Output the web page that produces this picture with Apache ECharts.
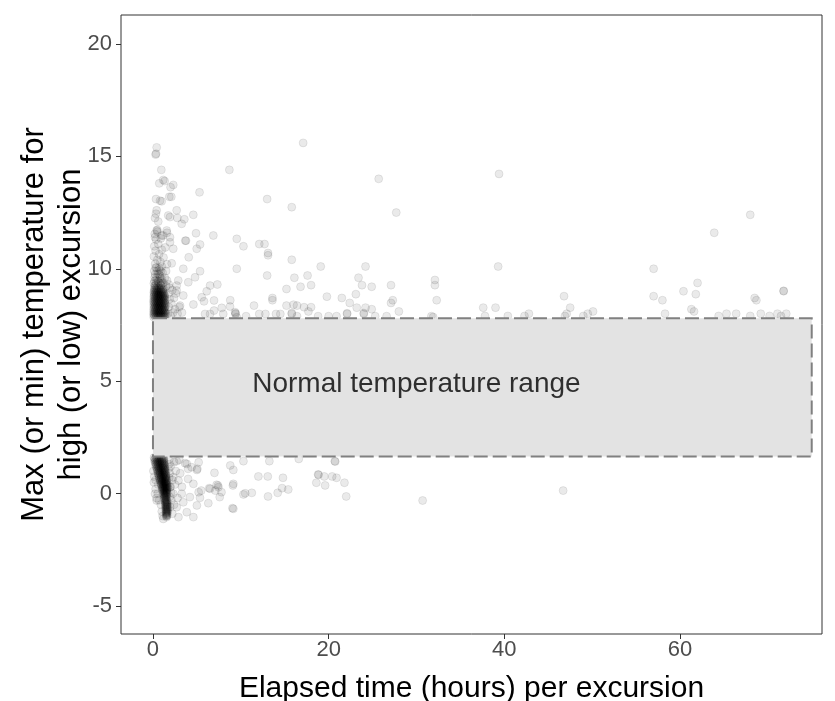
<!DOCTYPE html>
<html>
<head>
<meta charset="utf-8">
<script src="https://cdn.jsdelivr.net/npm/echarts@6.0.0/dist/echarts.min.js"></script>
<style>
  html, body { margin: 0; padding: 0; background: #fff; }
  #chart { width: 835px; height: 701px; }
</style>
</head>
<body>
<div id="chart"></div>
<script>
// axis ticks
const xTicks = [0, 20, 40, 60];
const yTicks = [-5, 0, 5, 10, 15, 20];

// normal temperature band (deg) and the elapsed-time span it is drawn over (hours)
const normalTemp = [1.65, 7.8];
const normalHours = [0, 75];
const normalLabel = 'Normal temperature range';
const normalLabelAt = [11.3, 4.85];

// dense high excursions: [temperature, elapsed hours...]
const highCoreRows = [
  [7.85, 0.08, 0.32, 0.55, 0.81, 1.04, 1.29],
  [7.9, 0.2, 0.44, 0.69, 0.93, 1.17, 1.41],
  [7.95, 0.12, 0.36, 0.6, 0.86, 1.1, 1.33],
  [8.0, 0.05, 0.27, 0.5, 0.75, 0.98, 1.22, 1.45],
  [8.05, 0.17, 0.41, 0.65, 0.89, 1.13, 1.37],
  [8.1, 0.1, 0.33, 0.57, 0.8, 1.06, 1.3],
  [8.15, 0.22, 0.47, 0.7, 0.95, 1.19, 1.42],
  [8.2, 0.06, 0.29, 0.53, 0.77, 1.01, 1.25],
  [8.25, 0.18, 0.4, 0.64, 0.88, 1.12, 1.36],
  [8.3, 0.11, 0.35, 0.59, 0.83, 1.07, 1.31],
  [8.35, 0.24, 0.48, 0.72, 0.96, 1.2, 1.44],
  [8.4, 0.07, 0.3, 0.54, 0.78, 1.02, 1.27],
  [8.45, 0.19, 0.43, 0.67, 0.91, 1.15, 1.39],
  [8.5, 0.13, 0.37, 0.61, 0.85, 1.09, 1.33],
  [8.55, 0.05, 0.26, 0.5, 0.74, 0.99, 1.23],
  [8.6, 0.2, 0.45, 0.68, 0.92, 1.16, 1.4],
  [8.65, 0.1, 0.34, 0.58, 0.82, 1.06, 1.29],
  [8.7, 0.23, 0.46, 0.7, 0.94, 1.18, 1.38],
  [8.75, 0.08, 0.31, 0.55, 0.79, 1.03, 1.27],
  [8.8, 0.17, 0.41, 0.65, 0.89, 1.12, 1.35],
  [8.85, 0.12, 0.36, 0.6, 0.84, 1.08, 1.3],
  [8.9, 0.21, 0.44, 0.69, 0.93, 1.17],
  [8.95, 0.09, 0.32, 0.56, 0.8, 1.04, 1.26],
  [9.0, 0.18, 0.42, 0.66, 0.9, 1.14],
  [9.05, 0.14, 0.38, 0.62, 0.86, 1.1],
  [9.1, 0.25, 0.49, 0.73, 0.97, 1.21],
  [9.15, 0.16, 0.4, 0.64, 0.88],
  [9.25, 0.22, 0.55, 0.9],
  [9.35, 0.35, 0.75, 1.1],
  [9.45, 0.18, 0.6, 0.95],
  [9.6, 0.4, 0.82],
  [9.75, 0.25, 0.68],
  [9.9, 0.5, 0.9],
  [10.05, 0.3, 0.7]
];

// dense low excursions: [temperature, elapsed hours...]
const lowCoreRows = [
  [1.6, 0.12, 0.38, 0.64, 0.9, 1.16],
  [1.55, 0.25, 0.5, 0.76, 1.02, 1.24],
  [1.5, 0.16, 0.42, 0.68, 0.94, 1.2],
  [1.45, 0.3, 0.55, 0.8, 1.06, 1.28],
  [1.4, 0.22, 0.47, 0.73, 0.99, 1.22],
  [1.35, 0.35, 0.6, 0.86, 1.1, 1.3],
  [1.3, 0.28, 0.53, 0.79, 1.04, 1.27],
  [1.25, 0.4, 0.66, 0.9, 1.15, 1.33],
  [1.2, 0.34, 0.59, 0.84, 1.08, 1.3],
  [1.15, 0.47, 0.72, 0.96, 1.2, 1.36],
  [1.1, 0.42, 0.66, 0.9, 1.13, 1.34],
  [1.05, 0.53, 0.77, 1.0, 1.22, 1.4],
  [1.0, 0.49, 0.73, 0.96, 1.18, 1.38],
  [0.95, 0.6, 0.83, 1.05, 1.27, 1.43],
  [0.9, 0.56, 0.8, 1.02, 1.24, 1.42],
  [0.85, 0.66, 0.89, 1.1, 1.3, 1.47],
  [0.8, 0.63, 0.86, 1.08, 1.28, 1.46],
  [0.75, 0.73, 0.95, 1.15, 1.35, 1.5],
  [0.7, 0.7, 0.92, 1.12, 1.32, 1.5],
  [0.65, 0.8, 1.0, 1.2, 1.38, 1.53],
  [0.6, 0.77, 0.98, 1.18, 1.36, 1.53],
  [0.55, 0.87, 1.06, 1.25, 1.42, 1.56],
  [0.5, 0.84, 1.04, 1.23, 1.4, 1.56],
  [0.45, 0.94, 1.12, 1.3, 1.46, 1.6],
  [0.4, 0.92, 1.1, 1.28, 1.45, 1.6],
  [0.35, 1.0, 1.18, 1.35, 1.5, 1.62],
  [0.3, 0.98, 1.16, 1.33, 1.49, 1.63],
  [0.25, 1.06, 1.23, 1.4, 1.55, 1.66],
  [0.2, 1.05, 1.22, 1.38, 1.53, 1.65],
  [0.15, 1.12, 1.28, 1.44, 1.58],
  [0.1, 1.1, 1.27, 1.43, 1.57],
  [0.05, 1.18, 1.34, 1.48, 1.62],
  [0.0, 1.16, 1.32, 1.47, 1.6],
  [-0.05, 1.24, 1.4, 1.54],
  [-0.1, 1.22, 1.38, 1.52],
  [-0.15, 1.3, 1.45, 1.58],
  [-0.2, 1.28, 1.44],
  [-0.25, 1.36, 1.52],
  [-0.3, 1.34, 1.5, 1.62],
  [-0.35, 1.4, 1.56],
  [-0.4, 1.38, 1.52, 1.64],
  [-0.45, 1.44, 1.58],
  [-0.5, 1.4, 1.54, 1.66],
  [-0.55, 1.46, 1.6],
  [-0.6, 1.42, 1.56, 1.68],
  [-0.65, 1.48, 1.62],
  [-0.7, 1.44, 1.57, 1.68],
  [-0.75, 1.5, 1.63],
  [-0.8, 1.46, 1.58, 1.68],
  [-0.85, 1.5, 1.62],
  [-0.9, 1.47, 1.59],
  [-0.95, 1.52, 1.63],
  [-1.0, 1.5, 1.6],
  [-1.05, 1.55]
];

// scattered high excursions [elapsed hours, max temperature]
const highPoints = [
  [0.3, 9.25], [0.9, 9.28], [1.5, 9.22], [0.1, 9.35], [0.6, 9.4], [1.2, 9.38], [1.8, 9.3],
  [0.4, 9.5], [1.0, 9.55], [1.6, 9.48], [0.2, 9.62], [0.8, 9.68], [1.35, 9.6], [0.55, 9.78],
  [1.1, 9.82], [0.15, 9.9], [0.75, 9.95], [1.5, 9.9], [0.4, 10.05], [1.0, 10.1], [0.25, 10.22],
  [0.85, 10.3], [1.6, 10.2], [0.5, 10.4], [0.1, 10.55], [1.2, 10.5], [0.7, 10.65], [0.3, 10.8],
  [1.0, 10.85], [0.15, 11.0], [0.6, 11.1], [1.4, 10.95], [0.35, 11.3], [0.9, 11.35], [0.2, 11.55],
  [1.6, 11.6], [1.7, 8.0], [2.0, 7.9], [2.3, 8.05], [1.8, 8.3], [2.1, 8.45], [2.5, 8.2],
  [1.9, 8.65], [2.4, 8.7], [1.75, 8.9], [2.2, 9.05], [2.6, 8.9], [1.9, 9.15], [2.8, 8.0],
  [3.0, 8.3], [2.7, 9.25], [3.3, 8.05],
  [0.42, 15.4], [0.3, 15.08], [0.35, 15.12], [0.95, 14.4], [8.7, 14.4], [0.72, 13.8], [1.17, 13.95],
  [1.33, 13.9], [2.31, 13.73], [2.0, 13.63], [5.3, 13.4], [0.34, 13.1], [0.8, 13.03], [0.99, 13.0],
  [1.86, 13.2], [2.09, 13.2], [0.42, 12.6], [0.34, 12.45], [0.23, 12.26], [0.6, 12.1], [1.74, 12.37],
  [1.94, 12.3], [2.7, 12.6], [2.77, 12.26], [3.57, 12.2], [3.27, 12.0], [4.59, 12.4], [0.42, 11.7],
  [0.49, 11.73], [0.23, 11.4], [0.99, 11.48], [1.56, 11.7], [1.94, 11.4], [3.68, 11.25], [4.9, 11.58],
  [6.87, 11.48], [9.54, 11.33], [0.5, 11.65], [1.17, 11.48], [1.94, 11.18], [3.76, 11.25], [5.36, 11.08],
  [4.98, 10.89], [4.07, 10.51], [2.31, 10.89], [2.13, 10.24], [3.45, 10.0], [5.36, 9.89], [9.54, 10.0],
  [4.02, 9.4], [4.79, 9.62], [6.5, 9.25], [7.33, 9.3], [6.12, 9.0], [5.55, 8.73], [5.81, 8.55],
  [6.95, 8.59], [4.6, 8.41], [3.45, 8.81], [2.88, 9.48], [2.7, 9.03], [3.08, 8.36], [7.83, 8.26],
  [8.77, 8.32], [6.95, 8.14], [8.0, 7.99], [9.34, 8.07], [9.54, 7.84], [5.93, 7.99], [6.5, 7.99],
  [10.3, 11.0], [17.1, 15.6], [25.7, 14.0], [13.0, 13.1], [15.8, 12.74], [27.7, 12.5], [12.1, 11.1],
  [12.7, 11.1], [13.1, 10.7], [13.1, 10.6], [15.8, 10.4], [13.0, 9.7], [19.1, 10.1], [24.2, 10.1],
  [16.1, 9.6], [17.6, 9.7], [23.4, 9.6], [15.2, 9.1], [16.8, 9.2], [18.0, 9.27], [23.8, 9.27],
  [24.9, 9.2], [27.1, 9.27], [32.1, 9.5], [32.1, 9.27], [32.3, 8.6], [19.8, 8.76], [21.5, 8.7],
  [23.1, 8.87], [13.6, 8.7], [13.6, 8.6], [11.5, 8.36], [15.2, 8.36], [16.0, 8.4], [16.4, 8.36],
  [17.2, 8.29], [18.0, 8.29], [17.7, 8.1], [22.4, 8.48], [23.2, 8.27], [24.2, 8.27], [24.9, 8.2],
  [27.3, 8.6], [27.1, 8.48], [28.0, 8.1], [8.8, 8.6], [9.4, 7.99], [10.6, 7.89], [12.1, 7.99],
  [12.8, 7.99], [14.0, 7.99], [14.5, 7.99], [15.8, 7.99], [16.4, 7.89], [18.8, 7.89], [20.0, 7.89],
  [20.9, 7.89], [22.1, 7.99], [24.0, 7.99], [25.3, 7.89], [26.6, 7.89], [31.7, 7.89], [9.4, 8.02],
  [15.8, 8.03], [22.1, 8.02], [24.0, 8.03], [31.9, 7.85],
  [39.4, 14.22], [39.3, 10.1], [63.9, 11.6], [68.0, 12.4], [57.0, 10.0], [57.0, 8.78], [58.0, 8.6],
  [60.4, 9.0], [62.0, 9.37], [61.8, 8.87], [68.5, 8.7], [68.7, 8.6], [71.8, 9.0], [71.8, 9.02],
  [46.8, 8.78], [47.5, 8.27], [47.1, 8.0], [37.6, 8.27], [39.0, 8.27], [61.3, 8.2], [61.6, 8.1],
  [58.3, 8.0], [50.1, 8.1], [49.5, 8.0], [42.8, 8.0], [40.4, 7.9], [37.8, 7.9], [65.3, 8.0],
  [66.4, 8.0], [69.2, 8.0], [71.1, 8.0], [72.1, 8.0], [64.4, 7.9], [68.0, 7.9], [70.2, 7.9],
  [42.3, 7.9], [49.0, 7.9], [71.5, 7.9], [46.9, 7.9]
];

// scattered low excursions [elapsed hours, min temperature]
const lowPoints = [
  [0.05, 1.0], [0.1, 0.5], [0.3, 0.2], [0.15, 0.75], [0.4, -0.2], [0.6, 0.4], [0.7, -0.3],
  [0.9, -0.5], [1.0, -0.8], [1.8, 1.5], [2.0, 1.2], [1.9, 0.9], [2.2, 0.6], [2.0, 0.3],
  [2.3, 0.0], [2.1, -0.3], [1.95, -0.6], [2.2, -0.9], [1.85, 1.3], [2.4, 1.4], [2.6, 1.0],
  [2.5, 0.4], [2.8, -0.2], [1.1, -1.0], [1.75, 1.1], [1.85, 0.7], [2.05, 0.05], [1.9, -0.15],
  [0.3, 0.6], [0.55, 0.0], [3.1, 0.9], [3.3, 0.3], [2.4, -0.5], [3.0, 1.5],
  [2.7, 1.44], [3.65, 1.35], [4.0, 1.1], [5.2, 1.39], [5.0, 1.05], [2.3, 0.73], [2.9, 0.58],
  [4.0, 0.65], [4.6, 0.43], [5.5, 0.13], [6.5, 0.21], [7.4, 0.36], [7.1, 0.13], [7.8, 0.06],
  [9.15, 0.43], [8.8, 1.25], [10.3, 1.44], [6.3, -0.43], [5.0, -0.53], [3.45, -0.39], [2.7, -0.61],
  [3.85, -0.83], [4.6, -1.05], [2.9, -1.05], [5.35, -0.19], [4.2, -0.16], [9.15, -0.68], [10.5, 0.01],
  [0.23, -0.01], [0.42, -0.31], [1.17, -1.13], [1.94, 0.28], [3.27, -0.01],
  [13.25, 1.44], [16.6, 1.54], [20.7, 1.44], [20.75, 1.42], [12.0, 0.76], [13.07, 0.76], [14.8, 0.7],
  [18.8, 0.85], [18.85, 0.83], [19.5, 0.76], [20.4, 0.76], [20.9, 0.7], [18.6, 0.48], [19.6, 0.36],
  [21.8, 0.48], [10.3, -0.04], [11.25, 0.03], [13.1, -0.13], [14.2, 0.03], [14.7, 0.24], [15.4, 0.18],
  [22.0, -0.13], [30.7, -0.31], [46.7, 0.13], [9.15, 1.05], [7.0, 0.92], [6.4, 0.24], [7.25, 0.39],
  [7.45, 0.28], [7.6, -0.16], [9.1, 0.36], [9.05, -0.65], [5.2, 0.06], [5.05, 1.1], [3.85, 1.32],
  [4.4, 1.17]
];

// rows are [temperature, hours, hours, ...] -> [hours, temperature] points
function rowsToPoints(rows) {
  const out = [];
  rows.forEach((row) => {
    for (let i = 1; i < row.length; i++) out.push([row[i], row[0]]);
  });
  return out;
}

const excursions = rowsToPoints(highCoreRows)
  .concat(rowsToPoints(lowCoreRows))
  .concat(highPoints)
  .concat(lowPoints);

const FONT = 'Liberation Sans, Arial, sans-serif';
const chart = echarts.init(document.getElementById('chart'), null, { renderer: 'canvas' });

chart.setOption({
  animation: false,
  backgroundColor: '#ffffff',
  grid: {
    left: 121, right: 13, top: 15, bottom: 67,
    outerBoundsMode: 'none',
    containLabel: false,
    show: true, borderColor: '#333333', borderWidth: 1, backgroundColor: 'transparent'
  },
  xAxis: {
    type: 'value',
    min: -3.64, max: 76.17,
    name: 'Elapsed time (hours) per excursion',
    nameLocation: 'middle',
    nameGap: 40,
    nameTextStyle: { fontFamily: FONT, fontSize: 30, color: '#000' },
    axisLine: { show: false, onZero: false },
    splitLine: { show: false },
    axisTick: { show: true, customValues: xTicks, length: 5, lineStyle: { color: '#333' } },
    axisLabel: { customValues: xTicks, fontFamily: FONT, fontSize: 22, color: '#4d4d4d', margin: 5 }
  },
  yAxis: {
    type: 'value',
    min: -6.25, max: 21.29,
    name: 'Max (or min) temperature for\nhigh (or low) excursion',
    nameLocation: 'middle',
    nameRotate: 90,
    nameGap: 31,
    nameMoveOverlap: false,
    nameTextStyle: { fontFamily: FONT, fontSize: 31, color: '#000', lineHeight: 37 },
    axisLine: { show: false, onZero: false },
    splitLine: { show: false },
    axisTick: { show: true, customValues: yTicks, length: 5, lineStyle: { color: '#333' } },
    axisLabel: { customValues: yTicks, fontFamily: FONT, fontSize: 22, color: '#4d4d4d', margin: 9 }
  },
  series: [
    {
      name: 'excursions',
      type: 'scatter',
      z: 2,
      symbol: 'circle',
      symbolSize: 8,
      silent: true,
      itemStyle: {
        color: 'rgba(0,0,0,0.1)',
        borderColor: 'rgba(0,0,0,0.1)',
        borderWidth: 1
      },
      data: excursions
    },
    {
      name: 'normal range',
      type: 'scatter',
      z: 5,
      silent: true,
      data: [],
      markArea: {
        z: 10,
        silent: true,
        itemStyle: {
          color: '#e3e3e3',
          borderColor: '#808080',
          borderWidth: 2,
          borderType: [14, 5]
        },
        label: { show: false },
        data: [[
          { xAxis: normalHours[0], yAxis: normalTemp[1] },
          { xAxis: normalHours[1], yAxis: normalTemp[0] }
        ]]
      }
    },
    {
      name: 'label',
      type: 'scatter',
      z: 20,
      silent: true,
      symbolSize: 0,
      data: [normalLabelAt],
      label: {
        show: true,
        position: 'right',
        distance: 0,
        formatter: normalLabel,
        fontFamily: FONT,
        fontSize: 28,
        color: '#000'
      }
    }
  ]
});
</script>
</body>
</html>
